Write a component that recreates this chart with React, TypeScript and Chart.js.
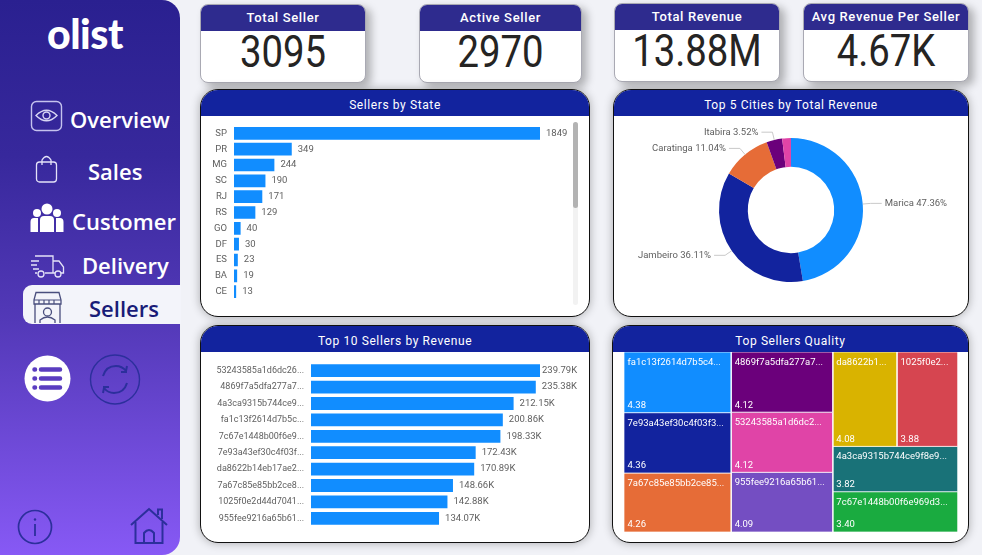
import React, { useEffect, useRef } from 'react';
import { Chart, registerables } from 'chart.js';

Chart.register(...registerables);
Chart.defaults.font.family = 'Roboto';
Chart.defaults.plugins.legend.display = false;
Chart.defaults.plugins.tooltip.enabled = false;

const BLUE = '#118DFF';
const LABEL_GREY = '#5f5f5f';

const stateNames = ['SP', 'PR', 'MG', 'SC', 'RJ', 'RS', 'GO', 'DF', 'ES', 'BA', 'CE'];
const stateSellers = [1849, 349, 244, 190, 171, 129, 40, 30, 23, 19, 13];

// the last slice has no label in the report
const cityNames = ['Marica', 'Jambeiro', 'Caratinga', 'Itabira', ''];
const cityShares = [47.36, 36.11, 11.04, 3.52, 1.97];
const cityColors = ['#118DFF', '#12239E', '#E66C37', '#6B007B', '#E044A7'];

const topSellerIds = [
  '53243585a1d6dc26...', '4869f7a5dfa277a7...', '4a3ca9315b744ce9...', 'fa1c13f2614d7b5c...', '7c67e1448b00f6e9...',
  '7e93a43ef30c4f03f...', 'da8622b14eb17ae2...', '7a67c85e85bb2ce8...', '1025f0e2d44d7041...', '955fee9216a65b61...',
];
const topSellerRevenueK = [239.79, 235.38, 212.15, 200.86, 198.33, 172.43, 170.89, 148.66, 142.88, 134.07];

const qualityIds = [
  'fa1c13f2614d7b5c4...', '7e93a43ef30c4f03f3...', '7a67c85e85bb2ce85...',
  '4869f7a5dfa277a7...', '53243585a1d6dc2...', '955fee9216a65b61...',
  'da8622b1...', '1025f0e2...', '4a3ca9315b744ce9f8e9...', '7c67e1448b00f6e969d3...',
];
const qualityScores = [4.38, 4.36, 4.26, 4.12, 4.12, 4.09, 4.08, 3.88, 3.82, 3.4];
const qualityColors = ['#118DFF', '#12239E', '#E66C37', '#6B007B', '#E044A7', '#744EC2', '#D9B300', '#D64550', '#197278', '#1AAB40'];
// treemap arrangement: columns > rows > indexes into the arrays above
const qualityColumns = [[[0], [1], [2]], [[3], [4], [5]], [[6, 7], [8], [9]]];

const cardTitles = ['Total Seller', 'Active Seller', 'Total Revenue', 'Avg Revenue Per Seller'];
const cardValues = ['3095', '2970', '13.88M', '4.67K'];

const sum = (list: number[]) => list.reduce((a, b) => a + b, 0);

type Cell = { index: number; x0: number; x1: number; y0: number; y1: number };

// slice and dice the scores into cells, in scale units
function treemapCells(): Cell[] {
  const cells: Cell[] = [];
  let x = 0;
  qualityColumns.forEach((rows) => {
    const columnTotal = sum(rows.flat().map((i) => qualityScores[i]));
    let y = 0;
    rows.forEach((row) => {
      const rowTotal = sum(row.map((i) => qualityScores[i]));
      const rowHeight = rowTotal / columnTotal;
      let cx = x;
      row.forEach((i) => {
        const w = (qualityScores[i] / rowTotal) * columnTotal;
        cells.push({ index: i, x0: cx, x1: cx + w, y0: y, y1: y + rowHeight });
        cx += w;
      });
      y += rowHeight;
    });
    x += columnTotal;
  });
  return cells;
}

function barValueLabels(format: (v: number) => string, clampGap?: number) {
  return {
    id: 'barValueLabels',
    afterDatasetsDraw(chart: any) {
      const { ctx, chartArea } = chart;
      ctx.save();
      ctx.font = '9.5px Roboto';
      ctx.fillStyle = LABEL_GREY;
      ctx.textBaseline = 'middle';
      chart.getDatasetMeta(0).data.forEach((bar: any, i: number) => {
        let x = bar.x + 6;
        if (clampGap !== undefined) x = Math.min(x, chartArea.right + clampGap);
        ctx.fillText(format(chart.data.datasets[0].data[i]), x, bar.y);
      });
      ctx.restore();
    },
  };
}

function barConfig(names: string[], values: number[], axisWidth: number, top: number, bottom: number, plugin: any, percent: number, tickSize: number) {
  return {
    type: 'bar',
    data: {
      labels: names,
      datasets: [{ data: values, backgroundColor: BLUE, barPercentage: percent, categoryPercentage: 1 }],
    },
    options: {
      indexAxis: 'y',
      animation: false,
      responsive: false,
      events: [],
      layout: { padding: { top, bottom, right: 49 } },
      scales: {
        x: { display: false, min: 0, max: Math.max(...values) },
        y: {
          grid: { display: false, drawTicks: false },
          border: { display: false },
          ticks: { color: LABEL_GREY, font: { size: tickSize }, padding: 7, autoSkip: false },
          afterFit: (scale: any) => {
            scale.width = axisWidth;
            // otherwise the tick label height overrides the top padding
            scale.paddingTop = 0;
            scale.paddingBottom = 0;
          },
        },
      },
    },
    plugins: [plugin],
  };
}

const donutLeaders = {
  id: 'donutLeaders',
  afterDatasetsDraw(chart: any) {
    const { ctx } = chart;
    ctx.save();
    ctx.font = '9.5px Roboto';
    ctx.textBaseline = 'middle';
    chart.getDatasetMeta(0).data.forEach((arc: any, i: number) => {
      if (!cityNames[i]) return;
      const mid = (arc.startAngle + arc.endAngle) / 2;
      const side = Math.cos(mid) >= 0 ? 1 : -1;
      const ex = arc.x + Math.cos(mid) * (arc.outerRadius + 8);
      const ey = arc.y + Math.sin(mid) * (arc.outerRadius + 8);
      const lx = ex + side * 11;
      ctx.strokeStyle = '#c9c9c9';
      ctx.lineWidth = 1;
      ctx.beginPath();
      ctx.moveTo(arc.x + Math.cos(mid) * arc.outerRadius, arc.y + Math.sin(mid) * arc.outerRadius);
      ctx.lineTo(ex, ey);
      ctx.lineTo(lx, ey);
      ctx.stroke();
      ctx.fillStyle = LABEL_GREY;
      ctx.textAlign = side > 0 ? 'left' : 'right';
      ctx.fillText(`${cityNames[i]} ${cityShares[i].toFixed(2)}%`, lx + side * 3, ey);
    });
    ctx.restore();
  },
};

const treemapLabels = {
  id: 'treemapLabels',
  afterDatasetsDraw(chart: any) {
    const { ctx, scales } = chart;
    ctx.save();
    ctx.font = '9.5px Roboto';
    ctx.fillStyle = '#ffffff';
    ctx.textBaseline = 'middle';
    treemapCells().forEach((c) => {
      const left = scales.x.getPixelForValue(c.x0) + 3.5;
      ctx.fillText(qualityIds[c.index], left, scales.y.getPixelForValue(c.y0) + 10.5);
      ctx.fillText(qualityScores[c.index].toFixed(2), left, scales.y.getPixelForValue(c.y1) - 7);
    });
    ctx.restore();
  },
};

function treemapConfig() {
  return {
    type: 'scatter',
    data: {
      datasets: treemapCells().map((c) => ({
        data: [
          { x: c.x0, y: c.y0 }, { x: c.x1, y: c.y0 }, { x: c.x1, y: c.y1 }, { x: c.x0, y: c.y1 }, { x: c.x0, y: c.y0 },
        ],
        showLine: true,
        fill: 'shape',
        backgroundColor: qualityColors[c.index],
        borderColor: 'rgba(255,255,255,0.7)',
        borderWidth: 1,
        pointRadius: 0,
        clip: false,
      })),
    },
    options: {
      animation: false,
      responsive: false,
      events: [],
      scales: {
        x: { display: false, min: 0, max: sum(qualityScores) },
        y: { display: false, min: 0, max: 1, reverse: true },
      },
    },
    plugins: [treemapLabels],
  };
}

function donutConfig() {
  return {
    type: 'doughnut',
    data: {
      labels: cityNames,
      datasets: [{ data: cityShares, backgroundColor: cityColors, borderWidth: 0 }],
    },
    options: {
      animation: false,
      responsive: false,
      events: [],
      cutout: '60%',
      layout: { padding: 22 },
    },
    plugins: [donutLeaders],
  };
}

const ChartBox: React.FC<{ x: number; y: number; w: number; h: number; config: () => any }> = ({ x, y, w, h, config }) => {
  const canvasRef = useRef<HTMLCanvasElement | null>(null);

  useEffect(() => {
    if (!canvasRef.current) return;
    const chart = new Chart(canvasRef.current, config());
    return () => chart.destroy();
  }, []);

  return <canvas ref={canvasRef} width={w} height={h} style={{ position: 'absolute', left: x, top: y, width: w, height: h }} />;
};

const Card: React.FC<{ x: number; y: number; w: number; title: string; value: string }> = ({ x, y, w, title, value }) => (
  <div style={{
    position: 'absolute', left: x, top: y, width: w, height: 79, boxSizing: 'border-box', background: '#fff',
    border: '1px solid #a9a9b3', borderRadius: 8, overflow: 'hidden', boxShadow: '5px 4px 9px rgba(0,0,0,0.28)',
    fontFamily: 'Roboto', textAlign: 'center',
  }}>
    <div style={{ height: 26, lineHeight: '26px', background: '#2E2B8E', color: '#fff', fontSize: 13, fontWeight: 500, letterSpacing: 0.65, whiteSpace: 'nowrap' }}>{title}</div>
    <div style={{ height: 52, lineHeight: '42px', fontSize: 44, fontWeight: 400, color: '#252423', transform: 'scaleX(0.87)' }}>{value}</div>
  </div>
);

const Panel: React.FC<{ x: number; y: number; w: number; h: number; title: string }> = ({ x, y, w, h, title }) => (
  <div style={{
    position: 'absolute', left: x, top: y, width: w, height: h, boxSizing: 'border-box', background: '#fff',
    border: '1.5px solid #111', borderRadius: 18, overflow: 'hidden', boxShadow: '0 0 10px rgba(0,0,0,0.3)',
  }}>
    <div style={{ height: 25.5, lineHeight: '30px', background: '#12239E', color: '#fff', textAlign: 'center', fontFamily: 'Roboto', fontSize: 12, letterSpacing: 0.6 }}>{title}</div>
  </div>
);

const NavText: React.FC<{ x: number; cy: number; size: number; color?: string; children: React.ReactNode }> = ({ x, cy, size, color, children }) => (
  <div style={{
    position: 'absolute', left: x, top: cy - 21, height: 40, lineHeight: '40px', fontFamily: '"Open Sans"', fontWeight: 600,
    fontSize: size, color: color || '#fff', whiteSpace: 'nowrap',
  }}>{children}</div>
);

const Icon: React.FC<{ x: number; y: number; w: number; h: number; children: React.ReactNode }> = ({ x, y, w, h, children }) => (
  <svg style={{ position: 'absolute', left: x, top: y }} width={w} height={h} viewBox={`0 0 ${w} ${h}`} fill="none">{children}</svg>
);

const NAVY = '#2c2f9c';

const Sidebar: React.FC = () => (
  <div style={{
    position: 'absolute', left: 0, top: 0, width: 180, height: 555,
    borderRadius: '0 18px 18px 0', background: 'linear-gradient(180deg, #2a2090 0%, #37289c 28%, #5339b8 58%, #8759f5 100%)',
  }}>
    <div style={{ position: 'absolute', left: 47, top: 7, height: 54, lineHeight: '54px', fontFamily: 'Lato', fontWeight: 900, fontSize: 41, color: '#fff', letterSpacing: -0.5 }}>olist</div>

    <Icon x={30} y={100} w={33} h={32}>
      <rect x="1.5" y="1.5" width="30" height="29" rx="5" stroke="#c5c2ee" strokeWidth="1.4" />
      <path d="M6 15.5 Q16.5 5 27 15.5 Q16.5 26 6 15.5 Z" stroke="#d8d6f4" strokeWidth="1.4" />
      <circle cx="16.5" cy="15.5" r="3.5" stroke="#d8d6f4" strokeWidth="1.4" />
    </Icon>
    <NavText x={70} cy={120} size={22}>Overview</NavText>

    <Icon x={35} y={154} w={23} h={29}>
      <rect x="1.5" y="8" width="20" height="20" rx="3" stroke="#e4e2f8" strokeWidth="1.3" />
      <path d="M7 11 V6 Q11.5 -1 16 6 V11" stroke="#e4e2f8" strokeWidth="1.3" />
    </Icon>
    <NavText x={88} cy={172} size={22}>Sales</NavText>

    <Icon x={30} y={203} w={34} h={30}>
      <circle cx="17" cy="6" r="5.5" fill="#fff" />
      <circle cx="7" cy="10" r="4" fill="#fff" />
      <circle cx="27" cy="10" r="4" fill="#fff" />
      <path d="M10 29 V17 Q10 13 14 13 H20 Q24 13 24 17 V29 Z" fill="#fff" />
      <path d="M0.5 29 V19 Q0.5 15 4 15 H8 V29 Z M26 29 V15 H30 Q33.5 15 33.5 19 V29 Z" fill="#fff" />
    </Icon>
    <NavText x={72} cy={222} size={22}>Customer</NavText>

    <Icon x={30} y={254} w={35} h={25}>
      <path d="M5 2 H23 V19 H15 M7 19 H5 M23 7 H29 L33.5 13 V19 H31 M23 19 H25" stroke="#e4e2f8" strokeWidth="1.3" />
      <path d="M1 7 H9 M1 11 H7 M3 15 H9" stroke="#e4e2f8" strokeWidth="1.3" />
      <circle cx="11" cy="20" r="3" stroke="#e4e2f8" strokeWidth="1.3" />
      <circle cx="28" cy="20" r="3" stroke="#e4e2f8" strokeWidth="1.3" />
    </Icon>
    <NavText x={82} cy={266} size={22}>Delivery</NavText>

    <div style={{ position: 'absolute', left: 23, top: 285, width: 158, height: 39, background: '#f3f4fa', borderRadius: '9px 0 0 9px' }} />
    <Icon x={31} y={291} w={33} h={33}>
      <path d="M3 9 L5 1.5 H28 L30 9 V13 H3 Z" stroke="#4a4f7e" strokeWidth="1.3" />
      <path d="M8 9 V13 M13 9 V13 M18 9 V13 M23 9 V13 M3 9 H30" stroke="#4a4f7e" strokeWidth="1.2" />
      <path d="M4 13 V32 M29 13 V32" stroke="#4a4f7e" strokeWidth="1.3" />
      <circle cx="16.5" cy="21" r="4" stroke="#4a4f7e" strokeWidth="1.3" />
      <path d="M9 32 V29 Q16.5 23 24 29 V32" stroke="#4a4f7e" strokeWidth="1.3" />
    </Icon>
    <NavText x={89} cy={309} size={22} color="#191c78">Sellers</NavText>

    <Icon x={24} y={355} w={47} h={47}>
      <circle cx="23.5" cy="23.5" r="23" fill="#fff" />
      <path d="M17 14.5 H36 M17 23.5 H36 M17 32.5 H36" stroke="#5a3dc0" strokeWidth="4.5" strokeLinecap="round" />
      <path d="M10.5 14.5 H11 M10.5 23.5 H11 M10.5 32.5 H11" stroke="#5a3dc0" strokeWidth="4.5" strokeLinecap="round" />
    </Icon>
    <Icon x={89} y={354} w={52} h={51}>
      <circle cx="26" cy="25.5" r="24.5" stroke={NAVY} strokeWidth="1.4" />
      <path d="M14 22 Q17 12 27 12 Q33 12 37 17 L38 12 M38 18 L32 18" stroke={NAVY} strokeWidth="2" />
      <path d="M38 29 Q35 39 25 39 Q19 39 15 34 L14 39 M14 33 L20 33" stroke={NAVY} strokeWidth="2" />
    </Icon>

    <Icon x={17} y={509} w={36} h={36}>
      <circle cx="18" cy="18" r="16.5" stroke={NAVY} strokeWidth="1.7" />
      <path d="M18 15 V27" stroke={NAVY} strokeWidth="1.8" />
      <circle cx="18" cy="10.5" r="1.2" fill={NAVY} />
    </Icon>
    <Icon x={130} y={506} w={38} h={39}>
      <path d="M1 19 L19 3 L37 19" stroke={NAVY} strokeWidth="2" />
      <path d="M5.5 16 V37 H32.5 V16 M28 9 V3.5 H32 V13" stroke={NAVY} strokeWidth="2" />
      <path d="M14 37 V27 Q19 21 24 27 V37" stroke={NAVY} strokeWidth="2" />
    </Icon>
  </div>
);

const App: React.FC = () => (
  <div style={{ position: 'absolute', left: 0, top: 0, width: 982, height: 555, overflow: 'hidden', background: '#f1f2f7' }}>
    <Sidebar />

    <Card x={200} y={4} w={166} title={cardTitles[0]} value={cardValues[0]} />
    <Card x={419} y={4} w={163} title={cardTitles[1]} value={cardValues[1]} />
    <Card x={614} y={3} w={166} title={cardTitles[2]} value={cardValues[2]} />
    <Card x={803} y={3} w={166} title={cardTitles[3]} value={cardValues[3]} />

    <Panel x={200} y={89} w={390} h={228} title="Sellers by State" />
    <ChartBox x={201} y={116} w={388} h={199} config={() => barConfig(stateNames, stateSellers, 33, 9.4, 15.4, barValueLabels((v) => String(v)), 0.8, 9.5)} />
    <div style={{ position: 'absolute', left: 573, top: 122, width: 5, height: 183, background: '#f2f2f2', borderRadius: 3 }} />
    <div style={{ position: 'absolute', left: 573, top: 122, width: 5, height: 86, background: '#b3b3b3', borderRadius: 3 }} />

    <Panel x={613} y={89} w={356} h={228} title="Top 5 Cities by Total Revenue" />
    <ChartBox x={614} y={116} w={354} h={188} config={donutConfig} />

    <Panel x={200} y={325} w={390} h={218} title="Top 10 Sellers by Revenue" />
    <ChartBox x={201} y={353} w={388} h={188} config={() => barConfig(topSellerIds, topSellerRevenueK, 110, 9.5, 14.5, barValueLabels((v) => `${v.toFixed(2)}K`, 2), 0.78, 9)} />

    <Panel x={612} y={325} w={357} h={218} title="Top Sellers Quality" />
    <ChartBox x={624} y={352} w={334} h={180} config={treemapConfig} />
  </div>
);

export default App;
